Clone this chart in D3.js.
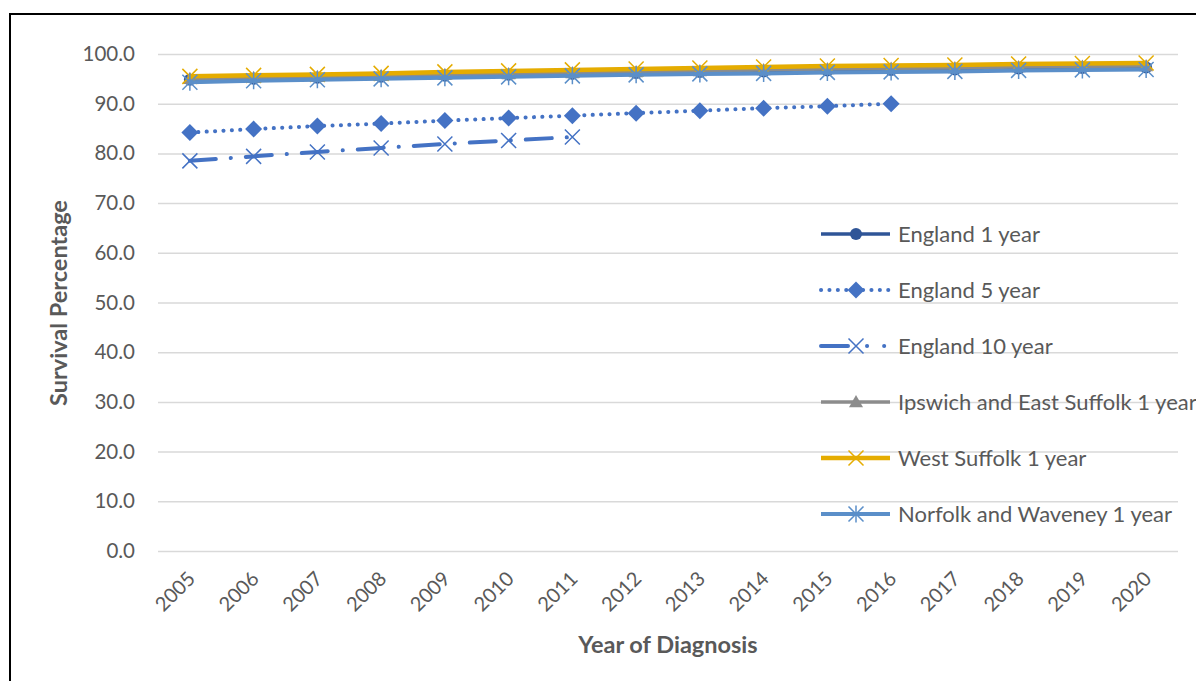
<!DOCTYPE html>
<html>
<head>
<meta charset="utf-8">
<script src="https://cdn.jsdelivr.net/npm/d3@7"></script>
<style>
  html, body { margin: 0; padding: 0; background: #fff; }
  svg { display: block; }
  text { font-family: Lato, "Open Sans", sans-serif; fill: #595959; }
</style>
</head>
<body>
<svg id="chart" width="1196" height="681"></svg>
<script>
const years = ["2005","2006","2007","2008","2009","2010","2011","2012","2013","2014","2015","2016","2017","2018","2019","2020"];
const yTicks = [0,10,20,30,40,50,60,70,80,90,100];

const england1 = [94.8,95.0,95.2,95.4,95.6,95.8,96.0,96.2,96.4,96.5,96.7,96.8,96.9,97.1,97.2,97.3];
const england5 = [84.2,84.9,85.5,86.0,86.6,87.1,87.6,88.1,88.6,89.1,89.5,90.0];
const england10 = [78.5,79.4,80.3,81.1,81.9,82.6,83.3];
const ipswich1 = [95.0,95.2,95.4,95.6,95.8,96.0,96.2,96.4,96.6,96.8,97.0,97.1,97.2,97.4,97.5,97.6];
const westSuffolk1 = [95.5,95.7,95.9,96.1,96.4,96.6,96.8,97.0,97.2,97.4,97.6,97.7,97.8,98.0,98.1,98.2];
const norfolk1 = [94.3,94.6,94.8,95.0,95.2,95.4,95.6,95.8,96.0,96.1,96.3,96.4,96.5,96.7,96.8,96.9];

const seriesNames = ["England 1 year","England 5 year","England 10 year","Ipswich and East Suffolk 1 year","West Suffolk 1 year","Norfolk and Waveney 1 year"];

const series = [
  {name: seriesNames[0], values: england1, color: "#2F5597", width: 3.5, dash: null, marker: "circle"},
  {name: seriesNames[1], values: england5, color: "#4472C4", width: 4, dash: "0.1,8.3", marker: "diamond"},
  {name: seriesNames[2], values: england10, color: "#4472C4", width: 4, dash: "26,15,0.1,15", marker: "x"},
  {name: seriesNames[3], values: ipswich1, color: "#8C8C8C", width: 3.5, dash: null, marker: "triangle"},
  {name: seriesNames[4], values: westSuffolk1, color: "#E5AC00", width: 4.5, dash: null, marker: "xgold"},
  {name: seriesNames[5], values: norfolk1, color: "#5B8FC9", width: 4, dash: null, marker: "star"}
];

const svg = d3.select("#chart");
const x = d3.scalePoint().domain(years).range([158, 1178]).padding(0.5);
const y = d3.scaleLinear().domain([0, 100]).range([551, 54]);

// border
svg.append("rect").attr("x", 10).attr("y", 14).attr("width", 1400).attr("height", 1000)
  .attr("fill", "none").attr("stroke", "#000").attr("stroke-width", 2);

// gridlines + y tick labels
const yAxis = d3.axisLeft(y).tickValues(yTicks).tickSize(-(1178 - 158)).tickFormat(d3.format(".1f")).tickPadding(23);
const gy = svg.append("g").attr("transform", "translate(158,0)").call(yAxis);
gy.select(".domain").remove();
gy.selectAll(".tick line").attr("stroke", "#D9D9D9").attr("stroke-width", 1.5);
gy.selectAll(".tick text").attr("font-size", 20.5).attr("fill", "#595959").style("font-family", "Lato, sans-serif");

// x axis labels
const xAxis = d3.axisBottom(x).tickSize(0).tickPadding(0);
const gx = svg.append("g").attr("transform", "translate(0,551)").call(xAxis);
gx.select(".domain").remove();
gx.selectAll(".tick text")
  .attr("font-size", 20).attr("fill", "#595959")
  .style("font-family", "Lato, sans-serif")
  .attr("text-anchor", "end")
  .attr("dy", 0)
  .attr("transform", "translate(6,29) rotate(-45)");

// axis titles
svg.append("text").attr("x", 668).attr("y", 653).attr("text-anchor", "middle")
  .attr("font-size", 23.5).attr("font-weight", "bold").text("Year of Diagnosis");
svg.append("text").attr("transform", "translate(67,303) rotate(-90)").attr("text-anchor", "middle")
  .attr("font-size", 23.5).attr("font-weight", "bold").text("Survival Percentage");

function drawMarker(g, type, cx, cy, color) {
  if (type === "circle") {
    g.append("circle").attr("cx", cx).attr("cy", cy).attr("r", 6).attr("fill", color);
  } else if (type === "diamond") {
    const s = 8.5;
    g.append("path").attr("d", `M${cx},${cy - s}L${cx + s},${cy}L${cx},${cy + s}L${cx - s},${cy}Z`).attr("fill", color);
  } else if (type === "x" || type === "xgold") {
    const s = 7.5;
    g.append("path").attr("d", `M${cx - s},${cy - s}L${cx + s},${cy + s}M${cx - s},${cy + s}L${cx + s},${cy - s}`)
      .attr("stroke", color).attr("stroke-width", 1.5).attr("fill", "none");
  } else if (type === "triangle") {
    const s = 7;
    g.append("path").attr("d", `M${cx},${cy - s}L${cx + s},${cy + s * 0.75}L${cx - s},${cy + s * 0.75}Z`).attr("fill", color);
  } else if (type === "star") {
    const s = 7.5;
    g.append("path").attr("d", `M${cx - s},${cy - s}L${cx + s},${cy + s}M${cx - s},${cy + s}L${cx + s},${cy - s}M${cx},${cy - s - 1}L${cx},${cy + s + 1}`)
      .attr("stroke", color).attr("stroke-width", 1.5).attr("fill", "none");
  }
}

const line = d3.line().x((d, i) => x(years[i])).y(d => y(d));
const plot = svg.append("g");
series.forEach(s => {
  const g = plot.append("g");
  g.append("path").datum(s.values).attr("d", line)
    .attr("fill", "none").attr("stroke", s.color).attr("stroke-width", s.width)
    .attr("stroke-linecap", s.dash ? "round" : "butt")
    .attr("stroke-linejoin", "round")
    .attr("stroke-dasharray", s.dash);
  s.values.forEach((v, i) => drawMarker(g, s.marker, x(years[i]), y(v), s.color));
});

// legend
const legend = svg.append("g");
const rowY = [234, 290, 346, 402, 458, 514];
series.forEach((s, i) => {
  const g = legend.append("g");
  const ly = rowY[i];
  g.append("line").attr("x1", 821).attr("x2", 890).attr("y1", ly).attr("y2", ly)
    .attr("stroke", s.color).attr("stroke-width", s.width)
    .attr("stroke-linecap", s.dash ? "round" : "butt")
    .attr("stroke-dasharray", s.name === "England 10 year" ? "27,19,0.1,17,0.1,100" : s.dash);
  drawMarker(g, s.marker, 856, ly, s.color);
  g.append("text").attr("x", 898).attr("y", ly).attr("dy", "0.36em")
    .attr("font-size", 22).text(s.name);
});
</script>
</body>
</html>
